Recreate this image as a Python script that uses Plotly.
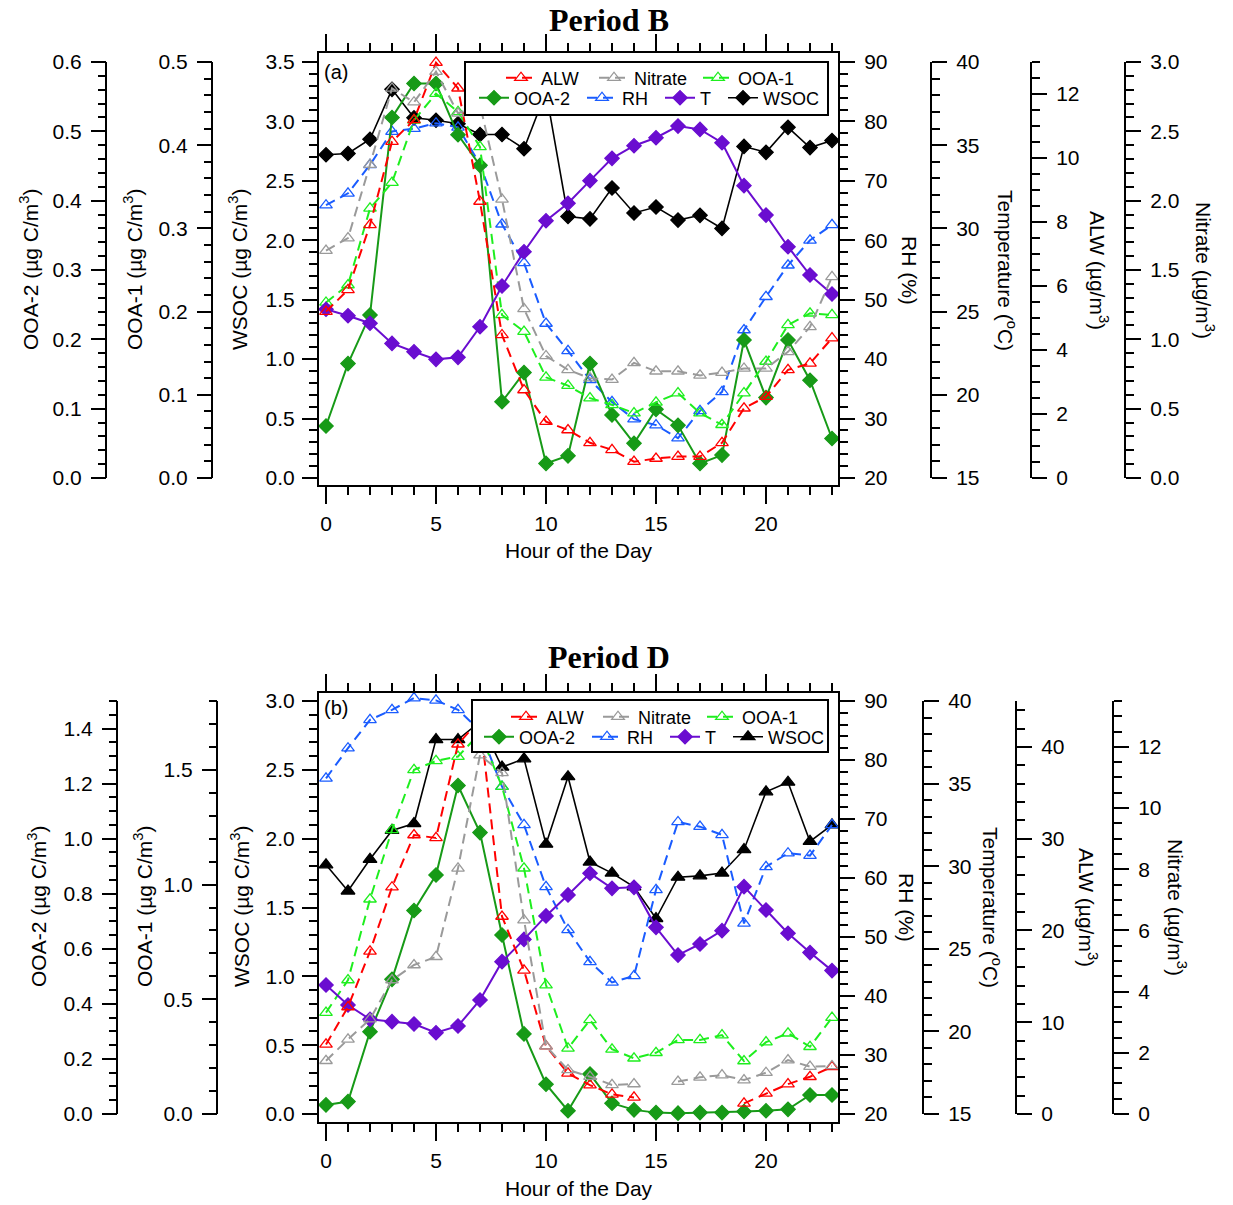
import plotly.graph_objects as go

W, H = 1233, 1205
FONT = "Liberation Sans, Arial, sans-serif"
SERIF = "Liberation Serif, Times New Roman, serif"

hours = list(range(24))
series_names = ["ALW", "Nitrate", "OOA-1", "OOA-2", "RH", "T", "WSOC"]

# ---------------- Period B ----------------
b_alw = [5.20, 5.88, 7.91, 10.51, 11.19, 12.98, 12.18, 8.64, 4.47, 2.75, 1.76, 1.50,
         1.10, 0.88, 0.51, 0.61, 0.67, 0.67, 1.10, 2.18, 2.54, 3.38, 3.58, 4.37]
b_nitrate = [1.64, 1.73, 2.26, 2.81, 2.71, 2.93, 2.63, 2.69, 2.01, 1.22, 0.88, 0.78,
             0.72, 0.71, 0.83, 0.77, 0.77, 0.74, 0.76, 0.79, 0.79, 0.91, 1.09, 1.45]
b_ooa1 = [0.211, 0.232, 0.324, 0.355, 0.430, 0.462, 0.440, 0.398, 0.196, 0.176, 0.121, 0.111,
          0.096, 0.088, 0.078, 0.091, 0.102, 0.078, 0.064, 0.102, 0.140, 0.184, 0.198, 0.196]
b_ooa2 = [0.075, 0.165, 0.235, 0.520, 0.569, 0.569, 0.495, 0.451, 0.110, 0.152, 0.021, 0.032,
          0.165, 0.091, 0.050, 0.099, 0.076, 0.021, 0.033, 0.199, 0.116, 0.199, 0.141, 0.057]
b_rh = [65.9, 67.9, 72.7, 78.3, 78.8, 79.7, 79.0, 72.8, 62.7, 56.2, 46.0, 41.4,
        36.5, 32.8, 29.9, 28.9, 26.7, 31.3, 34.5, 44.9, 50.5, 55.8, 60.0, 62.6]
b_t = [25.14, 24.75, 24.30, 23.09, 22.59, 22.13, 22.25, 24.09, 26.54, 28.60, 30.46, 31.51,
       32.87, 34.21, 34.97, 35.45, 36.15, 35.95, 35.15, 32.57, 30.80, 28.90, 27.20, 26.06]
b_wsoc = [2.72, 2.73, 2.85, 3.27, 3.03, 3.01, 2.98, 2.89, 2.89, 2.77, 3.25, 2.20,
          2.18, 2.44, 2.23, 2.28, 2.17, 2.21, 2.10, 2.79, 2.74, 2.95, 2.78, 2.84]

# ---------------- Period D ----------------
d_alw = [7.58, 11.66, 17.72, 24.71, 30.40, 30.08, 40.29, 43.0, 21.52, 15.65, 7.39, 4.42,
         3.15, 2.14, 1.81, None, None, None, None, 1.16, 2.25, 3.26, 4.06, 5.14]
d_nitrate = [1.74, 2.44, 3.10, 4.38, 4.87, 5.14, 8.03, 11.73, 11.15, 6.34, 2.22, 1.44,
             1.22, 0.95, 0.98, None, 1.06, 1.20, 1.27, 1.11, 1.35, 1.76, 1.55, 1.57]
d_ooa1 = [0.442, 0.584, 0.936, 1.238, 1.500, 1.539, 1.558, 1.66, 1.427, 1.071, 0.562, 0.286,
          0.410, 0.282, 0.243, 0.267, 0.323, 0.323, 0.344, 0.231, 0.313, 0.352, 0.293, 0.420]
d_ooa2 = [0.033, 0.045, 0.299, 0.489, 0.739, 0.868, 1.193, 1.022, 0.650, 0.291, 0.108, 0.012,
          0.145, 0.039, 0.015, 0.005, 0.003, 0.005, 0.005, 0.009, 0.012, 0.017, 0.069, 0.069]
d_rh = [76.9, 82.0, 86.8, 88.5, 90.5, 90.1, 88.5, 85.0, 75.5, 69.0, 58.5, 51.2,
        45.8, 42.3, 43.4, 58.0, 69.5, 68.7, 67.3, 52.3, 61.9, 64.2, 63.8, 69.0]
d_t = [22.81, 21.60, 20.73, 20.59, 20.45, 19.92, 20.33, 21.90, 24.22, 25.57, 26.99, 28.26,
       29.57, 28.66, 28.72, 26.30, 24.62, 25.29, 26.10, 28.76, 27.35, 25.94, 24.77, 23.68]
d_wsoc = [1.81, 1.62, 1.85, 2.06, 2.11, 2.72, 2.72, 2.85, 2.52, 2.58, 1.96, 2.45,
          1.83, 1.75, 1.65, 1.42, 1.72, 1.73, 1.75, 1.92, 2.34, 2.41, 1.98, 2.10]

panel_titles = ["Period B", "Period D"]
panel_tags = ["(a)", "(b)"]
axis_titles = {
    "OOA-2": "OOA-2 (µg C/m<sup>3</sup>)",
    "OOA-1": "OOA-1 (µg C/m<sup>3</sup>)",
    "WSOC": "WSOC (µg C/m<sup>3</sup>)",
    "RH": "RH (%)",
    "T": "Temperature (<sup>o</sup>C)",
    "ALW": "ALW (µg/m<sup>3</sup>)",
    "Nitrate": "Nitrate (µg/m<sup>3</sup>)",
}
x_title = "Hour of the Day"

data_panels = [
    {"ALW": b_alw, "Nitrate": b_nitrate, "OOA-1": b_ooa1, "OOA-2": b_ooa2,
     "RH": b_rh, "T": b_t, "WSOC": b_wsoc},
    {"ALW": d_alw, "Nitrate": d_nitrate, "OOA-1": d_ooa1, "OOA-2": d_ooa2,
     "RH": d_rh, "T": d_t, "WSOC": d_wsoc},
]

# ---------------- styling / layout (pixels) ----------------
styles = {
    "ALW": dict(color="#FF0000", dash="10px,6px", symbol="triangle-up-open", size=11, width=2),
    "Nitrate": dict(color="#9A9A9A", dash="10px,6px", symbol="triangle-up-open", size=11, width=2),
    "OOA-1": dict(color="#1EEE1E", dash="10px,6px", symbol="triangle-up-open", size=11, width=2),
    "OOA-2": dict(color="#179A17", dash="solid", symbol="diamond", size=11, width=2),
    "RH": dict(color="#1A5CFF", dash="10px,6px", symbol="triangle-up-open", size=11, width=2),
    "T": dict(color="#6A0DD0", dash="solid", symbol="diamond", size=11, width=2),
    "WSOC": dict(color="#000000", dash="solid", symbol="diamond", size=11, width=1.6),
}
wsoc_symbols = ["diamond", "triangle-up"]

X_LEFT, X_RIGHT = 319, 838
X0_PX, PX_PER_HR = 326, 22.0

panels_geom = [
    dict(top=53, bot=485, p0=478, p1=62, title_y=20, center_y=270, xlab_y=551, tag_y=72,
         box=(465, 62, 828, 115),
         leg=[(541, 78), (634, 78), (738, 78), (514, 98), (622, 98), (700, 98), (763, 98)],
         axes={
             "WSOC": (0, 3.5, 0.5, 0.1, ".1f", "left", None, 238),
             "RH": (20, 90, 10, 2, "d", "right", None, 910),
             "OOA-2": (0, 0.6, 0.1, 0.02, ".1f", "left", 106, 29),
             "OOA-1": (0, 0.5, 0.1, 0.02, ".1f", "left", 212, 133),
             "T": (15, 40, 5, 1, "d", "right", 931, 1007),
             "ALW": (0, 13, 2, 0.5, "d", "right", 1031, 1099),
             "Nitrate": (0, 3.0, 0.5, 0.1, ".1f", "right", 1125, 1205),
         }),
    dict(top=693, bot=1122, p0=1114, p1=701, title_y=657, center_y=907, xlab_y=1188, tag_y=708,
         box=(472, 700, 828, 752),
         leg=[(546, 717), (638, 717), (742, 717), (519, 737), (627, 737), (705, 737), (768, 737)],
         axes={
             "WSOC": (0, 3.0, 0.5, 0.1, ".1f", "left", None, 240),
             "RH": (20, 90, 10, 2, "d", "right", None, 907),
             "OOA-2": (0, 1.5, 0.2, 0.05, ".1f", "left", 117, 37),
             "OOA-1": (0, 1.8, 0.5, 0.1, ".1f", "left", 217, 143),
             "T": (15, 40, 5, 1, "d", "right", 923, 992),
             "ALW": (0, 45, 10, 2, "d", "right", 1016, 1088),
             "Nitrate": (0, 13.5, 2, 0.5, "d", "right", 1113, 1177),
         }),
]

axis_order = ["WSOC", "RH", "OOA-2", "OOA-1", "T", "ALW", "Nitrate"]


def px_x(p):
    return p / W


def px_y(p):
    return 1 - p / H


def val_range(vmin, vmax, p0, p1, top, bot):
    s = (vmax - vmin) / (p0 - p1)
    return [vmin - (bot - p0) * s, vmax + (p1 - top) * s]


fig = go.Figure()
layout = dict(
    width=W, height=H, autosize=False,
    margin=dict(l=0, r=0, t=0, b=0),
    paper_bgcolor="white", plot_bgcolor="white",
    showlegend=True,
    font=dict(family=FONT, color="black"),
)
shapes = []
annotations = []

tick_font = dict(size=21, family=FONT, color="black")
xr = [(X_LEFT - X0_PX) / PX_PER_HR, 23 + (X_RIGHT - (X0_PX + 23 * PX_PER_HR)) / PX_PER_HR]

legend_counter = 0
for pi, g in enumerate(panels_geom):
    xid = "x" if pi == 0 else "x2"
    xkey = "xaxis" if pi == 0 else "xaxis2"
    base = pi * 7
    yids = {name: ("y" if base + k == 0 else "y%d" % (base + k + 1)) for k, name in enumerate(axis_order)}
    domain_y = [px_y(g["bot"]), px_y(g["top"])]
    main_y = yids["WSOC"]

    layout[xkey] = dict(
        domain=[px_x(X_LEFT), px_x(X_RIGHT)], range=xr, anchor=main_y,
        tickmode="linear", tick0=0, dtick=5, ticks="outside", ticklen=17, tickwidth=2,
        tickcolor="black", showline=True, linecolor="black", linewidth=2, mirror="ticks",
        showgrid=False, zeroline=False, tickfont=tick_font, automargin=False,
        ticklabelstandoff=2,
        minor=dict(tick0=0, dtick=1, ticks="outside", ticklen=8, tickwidth=2,
                   tickcolor="black", showgrid=False),
    )

    for name in axis_order:
        vmin, vmax, dt, mdt, fmt, side, xpos, tx = g["axes"][name]
        yid = yids[name]
        ykey = "yaxis" if yid == "y" else "yaxis" + yid[1:]
        ax = dict(
            domain=domain_y,
            range=val_range(vmin, vmax, g["p0"], g["p1"], g["top"], g["bot"]),
            tickmode="linear", tick0=0, dtick=dt, tickformat=fmt,
            ticks="outside", ticklen=15, tickwidth=2, tickcolor="black",
            side=side, showgrid=False, zeroline=False, tickfont=tick_font,
            automargin=False, ticklabelstandoff=5,
            linecolor="black", linewidth=2,
            minor=dict(tick0=0, dtick=mdt, ticks="outside", ticklen=8, tickwidth=2,
                       tickcolor="black", showgrid=False),
        )
        if name == "WSOC":
            ax.update(anchor=xid, showline=True, ticklabelstandoff=3)
        elif name == "RH":
            ax.update(anchor=xid, overlaying=main_y, showline=True)
        else:
            ax.update(anchor="free", position=px_x(xpos), overlaying=main_y, showline=False)
            shapes.append(dict(type="line", xref="paper", yref=yid,
                               x0=px_x(xpos), x1=px_x(xpos), y0=vmin, y1=vmax,
                               line=dict(color="black", width=2), layer="above"))
        layout[ykey] = ax

        annotations.append(dict(
            text=axis_titles[name], xref="paper", yref="paper",
            x=px_x(tx), y=px_y(g["center_y"]), xanchor="center", yanchor="middle",
            textangle=-90 if side == "left" else 90, showarrow=False,
            font=dict(size=21, family=FONT, color="black")))

    # legend frame
    bx0, by0, bx1, by1 = g["box"]
    shapes.append(dict(type="rect", xref="paper", yref="paper",
                       x0=px_x(bx0), x1=px_x(bx1), y0=px_y(by1), y1=px_y(by0),
                       fillcolor="white", line=dict(color="black", width=2), layer="above"))

    # traces
    for si, name in enumerate(series_names):
        st = styles[name]
        symbol = st["symbol"]
        if name == "WSOC":
            symbol = wsoc_symbols[pi]
        legend_counter += 1
        lid = "legend" if legend_counter == 1 else "legend%d" % legend_counter
        fig.add_trace(go.Scatter(
            x=hours, y=data_panels[pi][name], name=name, yaxis=yids[name], xaxis=xid,
            mode="lines+markers", legend=lid,
            line=dict(color=st["color"], width=st["width"], dash=st["dash"]),
            marker=dict(symbol=symbol, size=st["size"] + (1 if symbol == "triangle-up" else 0),
                        color=st["color"], line=dict(color=st["color"], width=1.3)),
            cliponaxis=True,
        ))
        ltx, lty = g["leg"][si]
        layout[lid] = dict(
            x=px_x(ltx - 40), y=px_y(lty), xanchor="left", yanchor="middle",
            bgcolor="rgba(0,0,0,0)", borderwidth=0, orientation="h",
            font=dict(size=18, family=FONT, color="black"),
        )

    # titles and labels
    annotations.append(dict(text="<b>%s</b>" % panel_titles[pi], xref="paper", yref="paper",
                            x=px_x(609), y=px_y(g["title_y"]), xanchor="center", yanchor="middle",
                            showarrow=False, font=dict(size=32, family=SERIF, color="black")))
    annotations.append(dict(text=x_title, xref="paper", yref="paper",
                            x=px_x((X_LEFT + X_RIGHT) / 2), y=px_y(g["xlab_y"]),
                            xanchor="center", yanchor="middle", showarrow=False,
                            font=dict(size=21, family=FONT, color="black")))
    annotations.append(dict(text=panel_tags[pi], xref="paper", yref="paper",
                            x=px_x(322), y=px_y(g["tag_y"]), xanchor="left", yanchor="middle",
                            showarrow=False, font=dict(size=20, family=FONT, color="black")))

layout["shapes"] = shapes
layout["annotations"] = annotations
fig.update_layout(**layout)
fig.write_html("out.html", config={"displayModeBar": False})

# remove the default page margin so the figure fills the window exactly
with open("out.html", "r", encoding="utf-8") as f:
    html = f.read()
html = html.replace("<head>", "<head><style>html,body{margin:0;padding:0;overflow:hidden;}</style>", 1)
with open("out.html", "w", encoding="utf-8") as f:
    f.write(html)
